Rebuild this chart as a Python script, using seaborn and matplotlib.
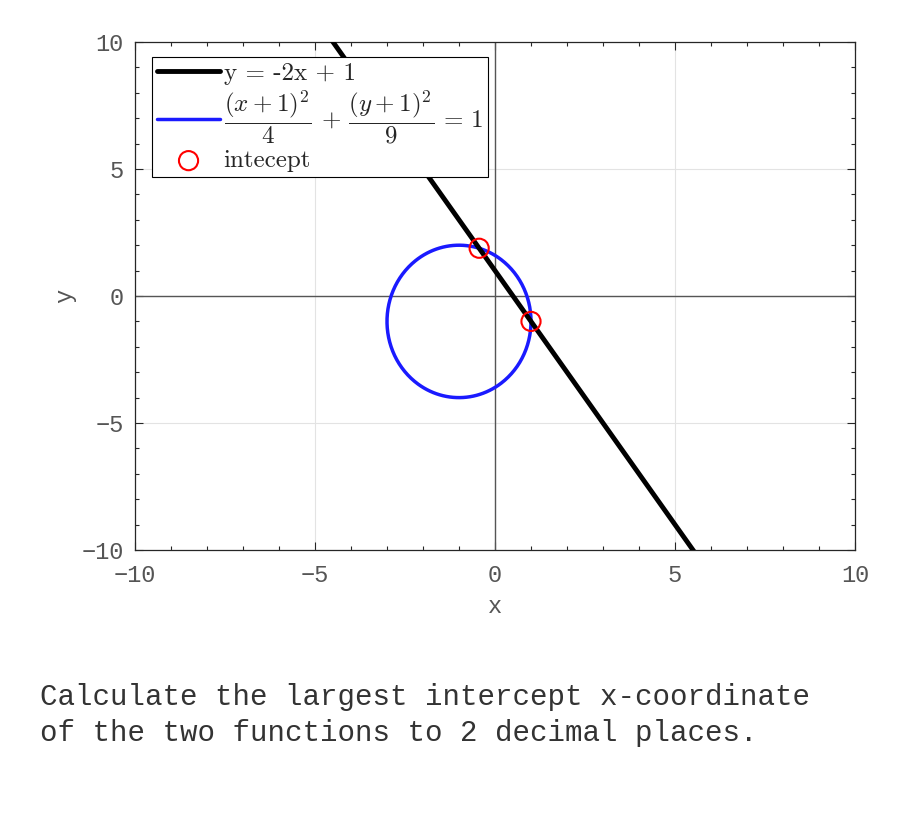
import numpy as np
import pandas as pd
import matplotlib
matplotlib.use("Agg")
import matplotlib.pyplot as plt
import seaborn as sns

# ---- data ----
line_slope = -2.0
line_intercept = 1.0
ellipse_center = (-1.0, -1.0)
ellipse_semi = (2.0, 3.0)          # sqrt(4), sqrt(9)
intercept_x = [-0.44, 1.00]
intercept_y = [1.88, -1.00]
ticks = [-10, -5, 0, 5, 10]
caption = ["Calculate the largest intercept x-coordinate",
           "of the two functions to 2 decimal places."]

sns.set_style("white")
plt.rcParams['font.family'] = ['Liberation Mono', 'DejaVu Sans']
plt.rcParams['mathtext.fontset'] = 'cm'
plt.rcParams['axes.unicode_minus'] = True

fig = plt.figure(figsize=(9, 8.25), dpi=100)
ax = fig.add_axes([0.15, 0.3333, 0.80, 0.6158])

# line
lx = np.array([-10.0, 10.0])
line_df = pd.DataFrame({"x": lx, "y": line_slope * lx + line_intercept})
# ellipse
t = np.linspace(0, 2 * np.pi, 400)
ell_df = pd.DataFrame({"x": ellipse_center[0] + ellipse_semi[0] * np.cos(t),
                       "y": ellipse_center[1] + ellipse_semi[1] * np.sin(t)})
pts_df = pd.DataFrame({"x": intercept_x, "y": intercept_y})

ax.axhline(0, color='#555555', lw=1.0, zorder=1)
ax.axvline(0, color='#555555', lw=1.0, zorder=1)

sns.lineplot(data=line_df, x="x", y="y", ax=ax, color='black', lw=3.5,
             label='y = -2x + 1', zorder=3)
sns.lineplot(data=ell_df, x="x", y="y", ax=ax, color='#1a1aff', lw=2.5,
             sort=False, estimator=None,
             label=r'$\dfrac{(x+1)^2}{4}\,+\,\dfrac{(y+1)^2}{9}\,=\,1$', zorder=2)
sns.scatterplot(data=pts_df, x="x", y="y", ax=ax, s=190, marker='o',
                facecolors='none', edgecolor='red', linewidth=1.5,
                label='intecept', zorder=4)

ax.set_xlim(-10, 10)
ax.set_ylim(-10, 10)
ax.set_xticks(ticks)
ax.set_yticks(ticks)
ax.set_xticks(np.arange(-10, 11, 1), minor=True)
ax.set_yticks(np.arange(-10, 11, 1), minor=True)
ax.grid(True, which='major', color='#e3e3e3', lw=0.8, zorder=0)
ax.tick_params(which='both', direction='in', top=True, right=True,
               bottom=True, left=True, colors='#262626', labelcolor='#555555')
ax.tick_params(which='major', length=6, width=0.8, labelsize=17)
ax.tick_params(which='minor', length=3, width=0.8)
ax.tick_params(axis='x', pad=10)
ax.tick_params(axis='y', pad=8)
for s in ax.spines.values():
    s.set_color('#262626')
    s.set_linewidth(0.9)
ax.set_xlabel('x', fontsize=17, color='#555555', labelpad=6)
ax.set_ylabel('y', fontsize=17, color='#555555', labelpad=4)

leg = ax.legend(loc='upper left', bbox_to_anchor=(0.024, 0.97),
                prop={'family': 'cmr10', 'size': 18}, frameon=True,
                fancybox=False, edgecolor='black', framealpha=1,
                handlelength=2.5, handletextpad=0.15, borderpad=0.2,
                labelspacing=0.15, borderaxespad=0)
leg.get_frame().set_linewidth(0.8)

fig.text(40 / 900, 1 - 697 / 825, caption[0], fontsize=21,
         family='Liberation Mono', color='#333333', va='center')
fig.text(40 / 900, 1 - 733 / 825, caption[1], fontsize=21,
         family='Liberation Mono', color='#333333', va='center')

fig.savefig('out.png', dpi=100)
